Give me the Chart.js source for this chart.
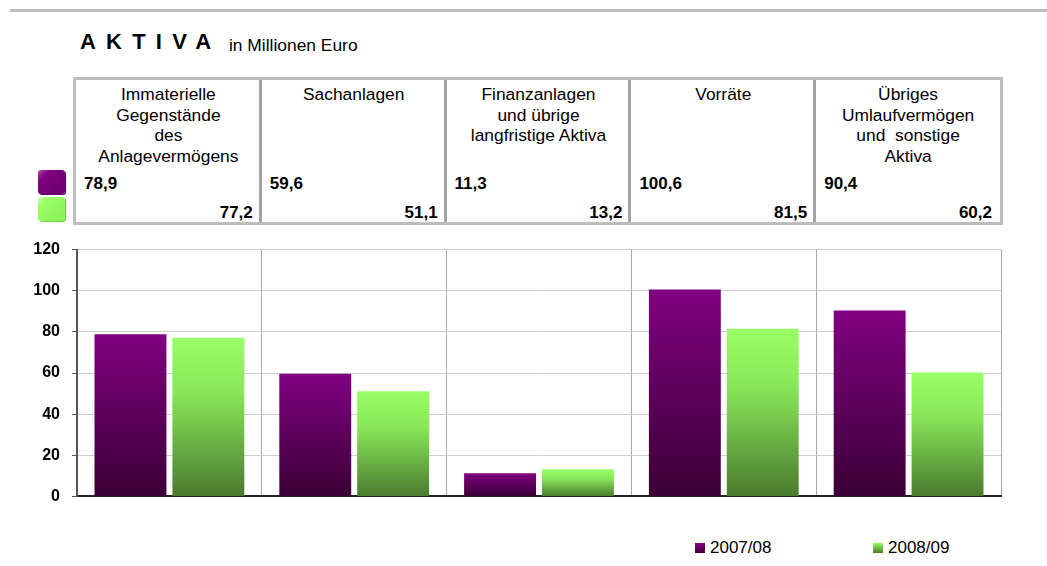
<!DOCTYPE html>
<html>
<head>
<meta charset="utf-8">
<script src="https://cdn.jsdelivr.net/npm/chart.js@4/dist/chart.umd.min.js"></script>
<style>
  body { margin: 0; width: 1047px; height: 566px; background: #fff; position: relative; overflow: hidden;
         font-family: "Liberation Sans", Arial, sans-serif; color: #000; }
  #topline { position: absolute; left: 10px; top: 9px; width: 1037px; height: 3px; background: #bdbdbd; }
  #title { position: absolute; left: 80px; top: 29px; font-size: 22px; font-weight: bold; letter-spacing: 10.2px; }
  #subtitle { position: absolute; left: 229px; top: 35px; font-size: 17.4px; }
  #tbl { position: absolute; left: 73px; top: 77px; width: 924px; height: 142px; border: 3px solid #bdbdbd; }
  .col { position: absolute; top: 0; height: 142px; }
  .col.div { border-left: 3px solid #a3a3a3; }
  .lbl { position: absolute; top: 4px; left: 0; right: 0; text-align: center; font-size: 17.4px; line-height: 20.5px; white-space: pre; }
  .v1 { position: absolute; left: 8px; top: 94px; font-size: 17px; font-weight: bold; }
  .v2 { position: absolute; right: 8px; top: 123px; font-size: 17px; font-weight: bold; }
  .sq { position: absolute; left: 38px; width: 27px; height: 24px; border-radius: 3px; }
  #leg { position: absolute; top: 538px; left: 0; font-size: 17px; }
  .li { position: absolute; white-space: nowrap; }
  .li span { display: inline-block; width: 10px; height: 10px; margin-right: 5px; vertical-align: 0px; }
  #wrap { position: absolute; left: 0; top: 228px; width: 1047px; height: 290px; }
</style>
</head>
<body>
<div id="topline"></div>
<div id="title">AKTIVA</div>
<div id="subtitle">in Millionen Euro</div>
<div class="sq" style="top:170px;background:linear-gradient(135deg,#b04cb0 0%,#800080 25%,#6a006a 100%);box-shadow:1px 1px 0 #5a005a"></div>
<div class="sq" style="top:197px;background:linear-gradient(135deg,#c8ffa8 0%,#99ff66 25%,#88ee55 100%);box-shadow:1px 1px 0 #77cc44"></div>
<div id="tbl"></div>
<div id="wrap"><canvas id="chart"></canvas></div>
<div id="leg"></div>
<script>
const categories = [
  ['Immaterielle', 'Gegenstände', 'des', 'Anlagevermögens'],
  ['Sachanlagen'],
  ['Finanzanlagen', 'und übrige', 'langfristige Aktiva'],
  ['Vorräte'],
  ['Übriges', 'Umlaufvermögen', 'und  sonstige', 'Aktiva']
];
const seriesNames = ['2007/08', '2008/09'];
const values0708 = [78.9, 59.6, 11.3, 100.6, 90.4];
const values0809 = [77.2, 51.1, 13.2, 81.5, 60.2];
const yTicks = [0, 20, 40, 60, 80, 100, 120];

const fmt = v => v.toFixed(1).replace('.', ',');

// table above the chart
const tbl = document.getElementById('tbl');
const colW = 924 / categories.length;
categories.forEach((lines, i) => {
  const c = document.createElement('div');
  c.className = 'col' + (i > 0 ? ' div' : '');
  c.style.left = (i * colW - (i > 0 ? 2 : 0)) + 'px';
  c.style.width = (colW - (i > 0 ? 1 : 0)) + 'px';
  const l = document.createElement('div');
  l.className = 'lbl';
  lines.forEach((t, k) => {
    if (k) l.appendChild(document.createElement('br'));
    l.appendChild(document.createTextNode(t));
  });
  c.appendChild(l);
  const a = document.createElement('div');
  a.className = 'v1'; a.textContent = fmt(values0708[i]);
  const b = document.createElement('div');
  b.className = 'v2'; b.textContent = fmt(values0809[i]);
  c.appendChild(a); c.appendChild(b);
  tbl.appendChild(c);
});

const colors = [
  { top: '#820082', mid: '#6a006a', bot: '#3b0036' },
  { top: '#99ff66', mid: '#88e658', bot: '#4a7a2e' }
];

function barGradient(ctx, idx) {
  const chart = ctx.chart;
  const area = chart.chartArea;
  if (!area || ctx.raw == null) return colors[idx].top;
  const ys = chart.scales.y;
  const top = ys.getPixelForValue(ctx.raw);
  const base = ys.getPixelForValue(0);
  const g = chart.ctx.createLinearGradient(0, top, 0, base);
  g.addColorStop(0, colors[idx].top);
  g.addColorStop(idx ? 0.35 : 0.3, colors[idx].mid);
  g.addColorStop(1, colors[idx].bot);
  return g;
}

new Chart(document.getElementById('chart'), {
  type: 'bar',
  data: {
    labels: categories,
    datasets: [
      { label: seriesNames[0], data: values0708, backgroundColor: c => barGradient(c, 0),
        categoryPercentage: 0.843, barPercentage: 0.923 },
      { label: seriesNames[1], data: values0809, backgroundColor: c => barGradient(c, 1),
        categoryPercentage: 0.843, barPercentage: 0.923 }
    ]
  },
  options: {
    responsive: true,
    maintainAspectRatio: false,
    animation: false,
    layout: { padding: { left: 0, right: 46, top: 0, bottom: 0 } },
    scales: {
      x: {
        ticks: { display: false },
        grid: { offset: true, drawTicks: false, lineWidth: 1,
                color: c => (c.index === categories.length ? '#c8c8c8' : '#a8a8a8') },
        border: { color: '#222', width: 2 },
        afterFit: s => { s.height = 0; }
      },
      y: {
        min: 0, max: 120,
        afterBuildTicks: s => { s.ticks = yTicks.map(v => ({ value: v })); },
        ticks: { padding: 12, color: '#000', font: { family: 'Liberation Sans', size: 16, weight: 'bold' } },
        grid: { color: '#cfcfcf', tickLength: 5, tickColor: '#555', lineWidth: 1 },
        border: { color: '#555', width: 2 },
        afterFit: s => { s.width = 77; }
      }
    },
    plugins: {
      legend: { display: false },
      tooltip: { enabled: false }
    }
  }
});

// legend below the chart
const leg = document.getElementById('leg');
const legX = [695, 873];
const legSw = ['linear-gradient(#820082,#3b0036)', 'linear-gradient(#99ff66,#4a7a2e)'];
seriesNames.forEach((n, i) => {
  const d = document.createElement('div');
  d.className = 'li';
  d.style.left = legX[i] + 'px';
  d.innerHTML = '<span style="background:' + legSw[i] + '"></span>' + n;
  leg.appendChild(d);
});
</script>
</body>
</html>
